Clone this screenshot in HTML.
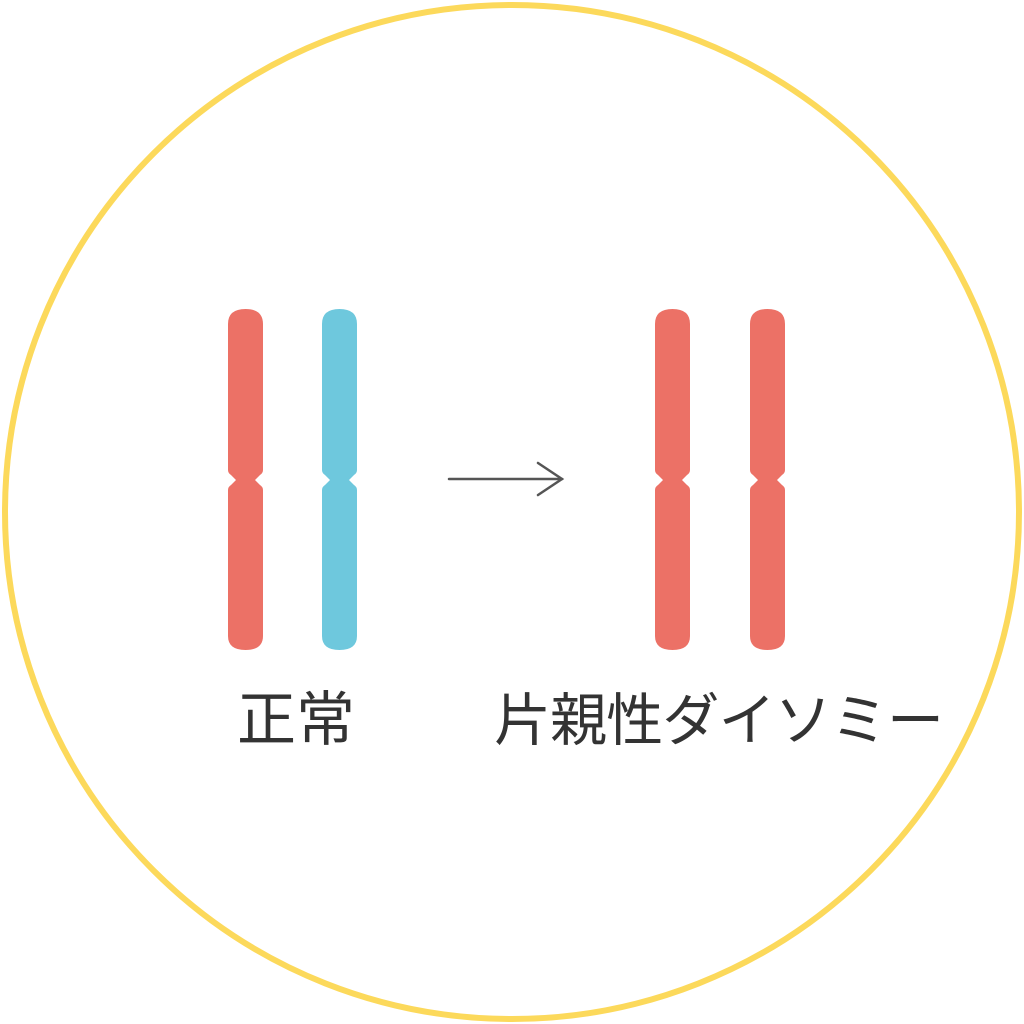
<!DOCTYPE html>
<html><head><meta charset="utf-8"><style>html,body{margin:0;padding:0;background:#fff;}svg{display:block}</style></head>
<body>
<svg width="1024" height="1024" viewBox="0 0 1024 1024" xmlns="http://www.w3.org/2000/svg">
<circle cx="512" cy="512" r="507" fill="#fff" stroke="#FCD95B" stroke-width="6"/>
<defs>
<path id="chr" d="M0,324 Q0,309 17.5,309 Q35,309 35,324 L35,470 Q35,473 32,475 L27,480 L32,485 Q35,487 35,490 L35,636 Q35,650 17.5,650 Q0,650 0,636 L0,490 Q0,487 3,485 L8,480 L3,475 Q0,473 0,470 Z"/>
</defs>
<use href="#chr" x="228" fill="#EC7166"/>
<use href="#chr" x="322" fill="#6EC8DD"/>
<use href="#chr" x="655" fill="#EC7166"/>
<use href="#chr" x="750" fill="#EC7166"/>
<g stroke="#555" stroke-width="2.5" fill="none" stroke-linecap="round">
<line x1="449" y1="479" x2="562" y2="479"/>
<polyline points="538,463 562,479 538,495"/>
</g>
<g font-family="'Liberation Sans','Noto Sans CJK JP',sans-serif" fill="#333">
<text x="237" y="740" font-size="59">正常</text>
<text x="494" y="740" font-size="57" textLength="450" lengthAdjust="spacing">片親性ダイソミー</text>
</g>
</svg>
</body></html>
